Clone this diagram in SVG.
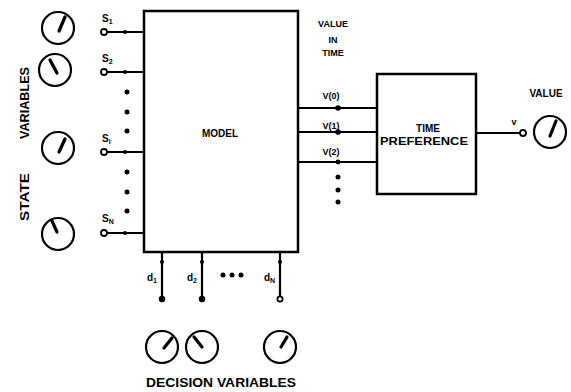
<svg xmlns="http://www.w3.org/2000/svg" width="571" height="392" viewBox="0 0 571 392">
<style>
  .box{fill:#fff;stroke:#000;stroke-width:2.5}
  .ln{stroke:#000;stroke-width:2.2;fill:none}
  .dial{fill:#fff;stroke:#000;stroke-width:2.2}
  .needle{stroke:#000;stroke-width:3.2;stroke-linecap:round}
  .term{fill:#fff;stroke:#000;stroke-width:1.8}
  .dot{fill:#000}
  text{font-family:"Liberation Sans",Arial,sans-serif;font-weight:bold;fill:#000}
  .lab{font-size:10px}
  .sm{font-size:9px}
  .big{font-size:13px}
</style>
<rect width="571" height="392" fill="#fff"/>

<g id="connectors">
  <!-- state inputs -->
  <line class="ln" x1="107" y1="32" x2="144" y2="32"/>
  <line class="ln" x1="107" y1="72" x2="144" y2="72"/>
  <line class="ln" x1="107" y1="152" x2="144" y2="152"/>
  <line class="ln" x1="107" y1="233" x2="144" y2="233"/>
  <circle class="dot" cx="125" cy="32" r="2"/>
  <circle class="dot" cx="125" cy="72" r="2"/>
  <circle class="dot" cx="125" cy="152" r="2"/>
  <circle class="dot" cx="125" cy="233" r="2"/>
  <circle class="term" cx="104" cy="32" r="3"/>
  <circle class="term" cx="104" cy="72" r="3"/>
  <circle class="term" cx="104" cy="152" r="3"/>
  <circle class="term" cx="104" cy="233" r="3"/>
  <!-- decision inputs -->
  <line class="ln" x1="162" y1="252" x2="162" y2="298"/>
  <line class="ln" x1="202" y1="252" x2="202" y2="298"/>
  <line class="ln" x1="280" y1="252" x2="280" y2="298"/>
  <circle class="dot" cx="162" cy="262" r="2"/>
  <circle class="dot" cx="202" cy="262" r="2"/>
  <circle class="dot" cx="280" cy="262" r="2"/>
  <circle class="dot" cx="162" cy="299" r="3.2"/>
  <circle class="dot" cx="202" cy="299" r="3.2"/>
  <circle class="term" cx="280" cy="299" r="2.6" stroke-width="2"/>
  <!-- value in time outputs -->
  <line class="ln" x1="298" y1="108" x2="377" y2="108"/>
  <line class="ln" x1="298" y1="132" x2="377" y2="132"/>
  <line class="ln" x1="298" y1="162" x2="377" y2="162"/>
  <circle class="dot" cx="338" cy="108" r="2.8"/>
  <circle class="dot" cx="338" cy="132" r="2.8"/>
  <circle class="dot" cx="338" cy="162" r="2.4"/>
  <!-- final output -->
  <line class="ln" x1="476" y1="133" x2="520" y2="133"/>
  <circle class="term" cx="523" cy="133" r="3"/>
</g>

<g id="dots">
  <circle class="dot" cx="127" cy="92" r="2.5"/>
  <circle class="dot" cx="127" cy="112" r="2.5"/>
  <circle class="dot" cx="127" cy="131" r="2.5"/>
  <circle class="dot" cx="127" cy="172" r="2.5"/>
  <circle class="dot" cx="127" cy="192" r="2.5"/>
  <circle class="dot" cx="127" cy="211" r="2.5"/>
  <circle class="dot" cx="338" cy="177" r="2.5"/>
  <circle class="dot" cx="338" cy="190" r="2.5"/>
  <circle class="dot" cx="338" cy="202" r="2.5"/>
  <circle class="dot" cx="223" cy="275" r="2.5"/>
  <circle class="dot" cx="232" cy="275" r="2.5"/>
  <circle class="dot" cx="241" cy="275" r="2.5"/>
</g>

<g id="model">
  <rect class="box" x="144" y="11" width="154" height="241"/>
  <text class="lab" x="220" y="137" text-anchor="middle">MODEL</text>
</g>

<g id="time-preference">
  <rect class="box" x="377" y="74" width="99" height="120"/>
  <text class="lab" x="428" y="132" text-anchor="middle">TIME</text>
  <text class="lab" x="424" y="145" text-anchor="middle" textLength="88" lengthAdjust="spacingAndGlyphs">PREFERENCE</text>
</g>

<g id="state-labels">
  <text class="lab" x="102" y="22">S<tspan font-size="7" dy="2">1</tspan></text>
  <text class="lab" x="102" y="62">S<tspan font-size="7" dy="2">2</tspan></text>
  <text class="lab" x="102" y="142">S<tspan font-size="7" dy="2">i</tspan></text>
  <text class="lab" x="102" y="222">S<tspan font-size="7" dy="2">N</tspan></text>
</g>

<g id="decision-labels">
  <text class="lab" x="147" y="281">d<tspan font-size="7" dy="2">1</tspan></text>
  <text class="lab" x="187" y="281">d<tspan font-size="7" dy="2">2</tspan></text>
  <text class="lab" x="264" y="281">d<tspan font-size="7" dy="2">N</tspan></text>
</g>

<g id="value-labels">
  <text class="sm" x="333" y="27" text-anchor="middle">VALUE</text>
  <text class="sm" x="333" y="43" text-anchor="middle">IN</text>
  <text class="sm" x="333" y="56" text-anchor="middle">TIME</text>
  <text class="sm" x="331" y="99" text-anchor="middle">V(0)</text>
  <text class="sm" x="331" y="129" text-anchor="middle">V(1)</text>
  <text class="sm" x="331" y="155" text-anchor="middle">V(2)</text>
  <text class="sm" x="514" y="125" text-anchor="middle">v</text>
  <text class="lab" x="546" y="97" text-anchor="middle">VALUE</text>
</g>

<g id="state-dials">
  <circle class="dial" cx="58" cy="28" r="16"/>
  <line class="needle" x1="59" y1="31" x2="65" y2="17"/>
  <circle class="dial" cx="55" cy="70" r="16"/>
  <line class="needle" x1="57" y1="73" x2="50" y2="60"/>
  <circle class="dial" cx="58" cy="148" r="16"/>
  <line class="needle" x1="59" y1="152" x2="65" y2="139"/>
  <circle class="dial" cx="58" cy="234" r="16"/>
  <line class="needle" x1="57" y1="232" x2="52" y2="221"/>
</g>

<g id="decision-dials">
  <circle class="dial" cx="162" cy="347" r="16"/>
  <line class="needle" x1="164" y1="348" x2="172" y2="338"/>
  <circle class="dial" cx="202" cy="347" r="16"/>
  <line class="needle" x1="202" y1="347" x2="194" y2="337"/>
  <circle class="dial" cx="280" cy="347" r="16"/>
  <line class="needle" x1="281" y1="347" x2="287" y2="337"/>
</g>

<g id="value-dial">
  <circle class="dial" cx="550" cy="132" r="16"/>
  <line class="needle" x1="550" y1="136" x2="556" y2="121"/>
</g>

<g id="axis-labels">
  <text class="big" transform="translate(29,103) rotate(-90)" text-anchor="middle" textLength="72" lengthAdjust="spacingAndGlyphs">VARIABLES</text>
  <text class="big" transform="translate(29,197) rotate(-90)" text-anchor="middle" textLength="48" lengthAdjust="spacingAndGlyphs">STATE</text>
  <text class="big" x="221" y="387" text-anchor="middle" textLength="150" lengthAdjust="spacingAndGlyphs">DECISION  VARIABLES</text>
</g>
</svg>
